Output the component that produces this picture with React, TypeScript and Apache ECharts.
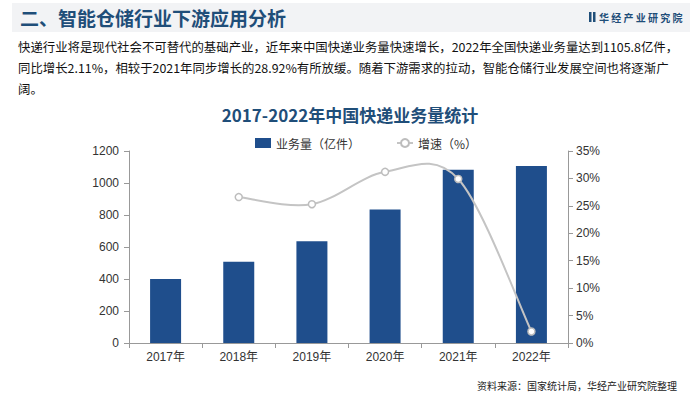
import React, { useEffect, useRef } from "react";
import * as echarts from "echarts";

const categories = ["2017年", "2018年", "2019年", "2020年", "2021年", "2022年"];
const volume = [400.6, 507.1, 635.2, 833.6, 1083.0, 1105.8];
const growth: (number | null)[] = [null, 26.6, 25.3, 31.2, 29.9, 2.1];
const leftTicks = [0, 1200, 200];
const rightTicks = [0, 35, 5];

const headerTitle = "二、智能仓储行业下游应用分析";
const paragraphLines = [
  "快递行业将是现代社会不可替代的基础产业，近年来中国快递业务量快速增长，2022年全国快递业务量达到1105.8亿件，",
  "同比增长2.11%，相较于2021年同步增长的28.92%有所放缓。随着下游需求的拉动，智能仓储行业发展空间也将逐渐广",
  "阔。",
];
const chartTitle = "2017-2022年中国快递业务量统计";
const sourceNote = "资料来源：国家统计局，华经产业研究院整理";
const brand = "华经产业研究院";

const FONT = "'Liberation Sans', 'Noto Sans CJK SC', sans-serif";
const CJK = "'Noto Sans CJK SC', sans-serif";
const BLUE = "#1F4E8C";
const DARK = "#1F4E79";
const LINE = "#C4C4C4";

export default function App() {
  const ref = useRef<HTMLDivElement>(null);
  useEffect(() => {
    if (!ref.current) return;
    const chart = echarts.init(ref.current, undefined, { renderer: "svg" });
    const renderCurve = (params: any, api: any) => {
      const pts: number[][] = [];
      growth.forEach((v, i) => {
        if (v != null) pts.push(api.coord([i, v]));
      });
      if (pts.length < 2) return null;
      let d = `M${pts[0][0]},${pts[0][1]}`;
      for (let i = 0; i < pts.length - 1; i++) {
        const p0 = pts[i - 1] || pts[i];
        const p1 = pts[i];
        const p2 = pts[i + 1];
        const p3 = pts[i + 2] || pts[i + 1];
        const c1x = p1[0] + (p2[0] - p0[0]) / 6;
        const c1y = p1[1] + (p2[1] - p0[1]) / 6;
        const c2x = p2[0] - (p3[0] - p1[0]) / 6;
        const c2y = p2[1] - (p3[1] - p1[1]) / 6;
        d += ` C${c1x},${c1y} ${c2x},${c2y} ${p2[0]},${p2[1]}`;
      }
      return {
        type: "path",
        shape: { pathData: d },
        style: { fill: "none", stroke: LINE, lineWidth: 2 },
      };
    };
    chart.setOption({
      animation: false,
      backgroundColor: "#ffffff",
      title: {
        text: chartTitle,
        left: "center",
        top: 101,
        textStyle: { fontFamily: CJK, fontSize: 17, fontWeight: "bold", color: DARK },
      },
      legend: {
        top: 132,
        left: 250,
        itemGap: 36,
        itemWidth: 16,
        itemHeight: 10,
        textStyle: { fontFamily: CJK, fontSize: 12, color: "#333" },
        data: [
          { name: "业务量（亿件）", icon: "rect" },
          { name: "增速（%）", lineStyle: { color: LINE, width: 2, opacity: 1 } },
        ],
      },
      grid: { left: 129, right: 132, top: 151, bottom: 54 },
      xAxis: {
        type: "category",
        data: categories,
        axisLine: { lineStyle: { color: "#999" } },
        axisTick: { show: true, lineStyle: { color: "#999" } },
        axisLabel: { color: "#333", fontSize: 12, fontFamily: FONT, margin: 8 },
      },
      yAxis: [
        {
          type: "value",
          min: leftTicks[0],
          max: leftTicks[1],
          interval: leftTicks[2],
          axisLine: { show: true, lineStyle: { color: "#999" } },
          axisTick: { show: true, lineStyle: { color: "#999" } },
          splitLine: { show: false },
          axisLabel: { color: "#333", fontSize: 12, fontFamily: FONT, margin: 10, formatter: (v: number) => String(v) },
        },
        {
          type: "value",
          min: rightTicks[0],
          max: rightTicks[1],
          interval: rightTicks[2],
          position: "right",
          axisLine: { show: true, lineStyle: { color: "#999" } },
          axisTick: { show: true, lineStyle: { color: "#999" } },
          splitLine: { show: false },
          axisLabel: { color: "#333", fontSize: 12, fontFamily: FONT, margin: 8, formatter: "{value}%" },
        },
      ],
      series: [
        {
          name: "业务量（亿件）",
          type: "bar",
          data: volume,
          barWidth: 31,
          itemStyle: { color: BLUE },
        },
        {
          name: "增速曲线",
          type: "custom",
          yAxisIndex: 1,
          data: [[0, 0]],
          renderItem: renderCurve,
          z: 3,
          silent: true,
        },
        {
          name: "增速（%）",
          type: "line",
          yAxisIndex: 1,
          data: growth,
          symbol: "circle",
          symbolSize: 7,
          lineStyle: { color: LINE, width: 2, opacity: 0 },
          itemStyle: { color: "#ffffff", borderColor: "#BDBDBD", borderWidth: 1.5 },
          z: 4,
        },
      ],
      graphic: [
        { type: "rect", shape: { x: 12, y: 3, width: 678, height: 29 }, style: { fill: "#F2F3F5" }, z: -1 },
        {
          type: "text",
          x: 20,
          y: 17,
          style: { text: headerTitle, fontFamily: CJK, fontSize: 19, fontWeight: "bold", fill: DARK, verticalAlign: "middle" },
        },
        { type: "rect", shape: { x: 589, y: 12, width: 2.5, height: 10 }, style: { fill: DARK } },
        { type: "rect", shape: { x: 593, y: 12, width: 2.5, height: 10 }, style: { fill: DARK } },
        {
          type: "text",
          x: 599,
          y: 17,
          style: { text: brand.split("").join(" "), fontFamily: CJK, fontSize: 10, fontWeight: "bold", fill: DARK, verticalAlign: "middle" },
        },
        ...paragraphLines.map((t, i) => ({
          type: "text",
          x: 18,
          y: 47 + i * 21,
          style: { text: t, fontFamily: CJK, fontSize: 12.4, fill: "#111", verticalAlign: "middle" },
        })),
        {
          type: "text",
          x: 677,
          y: 385,
          style: { text: sourceNote, fontFamily: CJK, fontSize: 10, fill: "#222", align: "right", verticalAlign: "middle" },
        },
      ],
    });
    return () => chart.dispose();
  }, []);
  return <div ref={ref} style={{ width: 700, height: 397, position: "absolute", left: 0, top: 0 }} />;
}
